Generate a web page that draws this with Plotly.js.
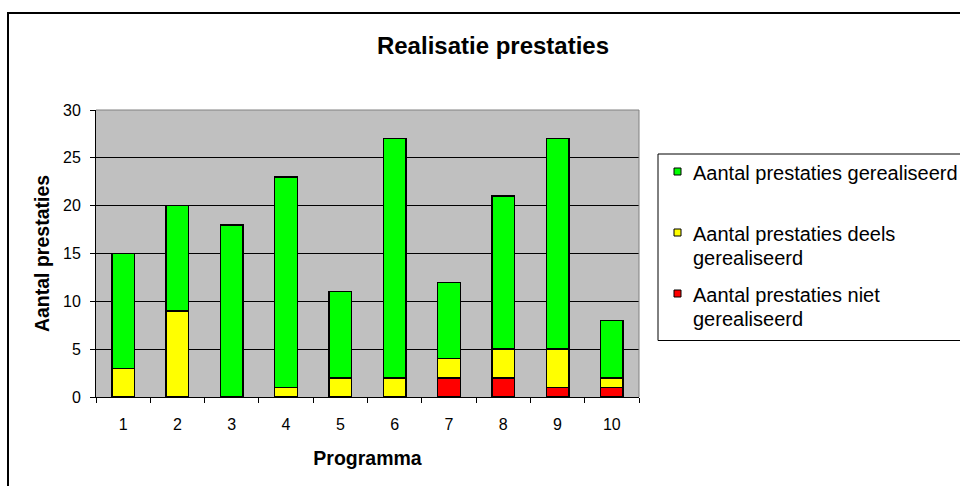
<!DOCTYPE html>
<html>
<head>
<meta charset="utf-8">
<script src="https://cdn.plot.ly/plotly-3.0.1.min.js"></script>
<style>html,body{margin:0;padding:0;background:#fff;}#chart{width:960px;height:486px;}</style>
</head>
<body>
<div id="chart"></div>
<script>
// ---- data ----
var programmas = ['1','2','3','4','5','6','7','8','9','10'];
var nietGerealiseerd = [0, 0, 0, 0, 0, 0, 2, 2, 1, 1];
var deelsGerealiseerd = [3, 9, 0, 1, 2, 2, 2, 3, 4, 1];
var gerealiseerd = [12, 11, 18, 22, 9, 25, 8, 16, 22, 6];
var seriesNames = ['Aantal prestaties niet<br>gerealiseerd', 'Aantal prestaties deels<br>gerealiseerd', 'Aantal prestaties gerealiseerd'];
var seriesColors = ['#FF0000', '#FFFF00', '#00FF00'];
var chartTitle = 'Realisatie prestaties';
var xTitle = 'Programma';
var yTitle = 'Aantal prestaties';

var FONT = '"Liberation Sans", Arial, sans-serif';
var L = 96, R = 321, T = 110, B = 89, W = 960, H = 486;
var PW = W - L - R, PH = H - T - B;
function px(x) { return (x - L) / PW; }
function py(y) { return (H - B - y) / PH; }

var values = [nietGerealiseerd, deelsGerealiseerd, gerealiseerd];
var traces = values.map(function (v, i) {
  return {
    type: 'bar', x: programmas, y: v, name: seriesNames[i],
    marker: { color: seriesColors[i], line: { color: '#000', width: 1.4 } },
    hoverinfo: 'x+y+name', showlegend: false
  };
});

var shapes = [
  // outer frame
  { type: 'rect', xref: 'paper', yref: 'paper', x0: px(8), x1: 1.9, y0: -0.6, y1: py(13),
    line: { color: '#000', width: 2 }, fillcolor: 'rgba(0,0,0,0)', layer: 'above' },
  // plot area top/right border (gray)
  { type: 'line', xref: 'paper', yref: 'paper', x0: 0, x1: 1, y0: 1, y1: 1, line: { color: '#808080', width: 1 }, layer: 'above' },
  { type: 'line', xref: 'paper', yref: 'paper', x0: 1, x1: 1, y0: 0, y1: 1, line: { color: '#808080', width: 1 }, layer: 'above' },
  // legend box
  { type: 'rect', xref: 'paper', yref: 'paper', x0: px(658), x1: 1.9, y0: py(340.5), y1: py(154),
    line: { color: '#000', width: 1 }, fillcolor: '#fff', layer: 'above' }
];
var annotations = [];
// legend entries: top-to-bottom = gerealiseerd, deels, niet
var legendOrder = [2, 1, 0];
var symbolCenters = [171.5, 232.5, 293.5];
legendOrder.forEach(function (si, k) {
  var cy = symbolCenters[k];
  shapes.push({ type: 'rect', xref: 'paper', yref: 'paper', x0: px(674), x1: px(681), y0: py(cy + 3.5), y1: py(cy - 3.5),
    line: { color: '#000', width: 1 }, fillcolor: seriesColors[si], layer: 'above' });
  seriesNames[si].split('<br>').forEach(function (line, j) {
    annotations.push({ xref: 'paper', yref: 'paper', x: px(691), y: py(cy + 1 + j * 24), xanchor: 'left', yanchor: 'middle',
      text: line, showarrow: false, font: { family: FONT, size: 20, color: '#000' } });
  });
});

var layout = {
  width: W, height: H,
  margin: { l: L, r: R, t: T, b: B, pad: 0 },
  paper_bgcolor: '#fff', plot_bgcolor: '#C0C0C0',
  barmode: 'stack', bargap: 0.583,
  showlegend: false,
  font: { family: FONT, color: '#000' },
  title: { text: '<b>' + chartTitle + '</b>', x: 493 / W, xanchor: 'center', y: 1 - 46 / H, yanchor: 'middle',
    font: { family: FONT, size: 24, color: '#000' } },
  xaxis: {
    type: 'category', tickson: 'boundaries', ticks: 'outside', ticklen: 5, tickcolor: '#000', tickwidth: 1,
    showline: true, linecolor: '#000', linewidth: 1, showgrid: false, zeroline: false,
    tickfont: { family: FONT, size: 16, color: '#000' }, ticklabelstandoff: 13,
    title: { text: '<b>' + xTitle + '</b>', font: { family: FONT, size: 19.5, color: '#000' }, standoff: 19 }
  },
  yaxis: {
    range: [0, 30], dtick: 5, tick0: 0, ticks: 'outside', ticklen: 5, tickcolor: '#000', tickwidth: 1,
    showline: true, linecolor: '#000', linewidth: 1, showgrid: true, gridcolor: '#000', gridwidth: 1, zeroline: false,
    tickfont: { family: FONT, size: 16, color: '#000' }, ticklabelstandoff: 6,
    title: { text: '<b>' + yTitle + '</b>', font: { family: FONT, size: 19.5, color: '#000' }, standoff: 8 }
  },
  shapes: shapes,
  annotations: annotations
};

Plotly.newPlot('chart', traces, layout, { displayModeBar: false, staticPlot: true });
</script>
</body>
</html>
